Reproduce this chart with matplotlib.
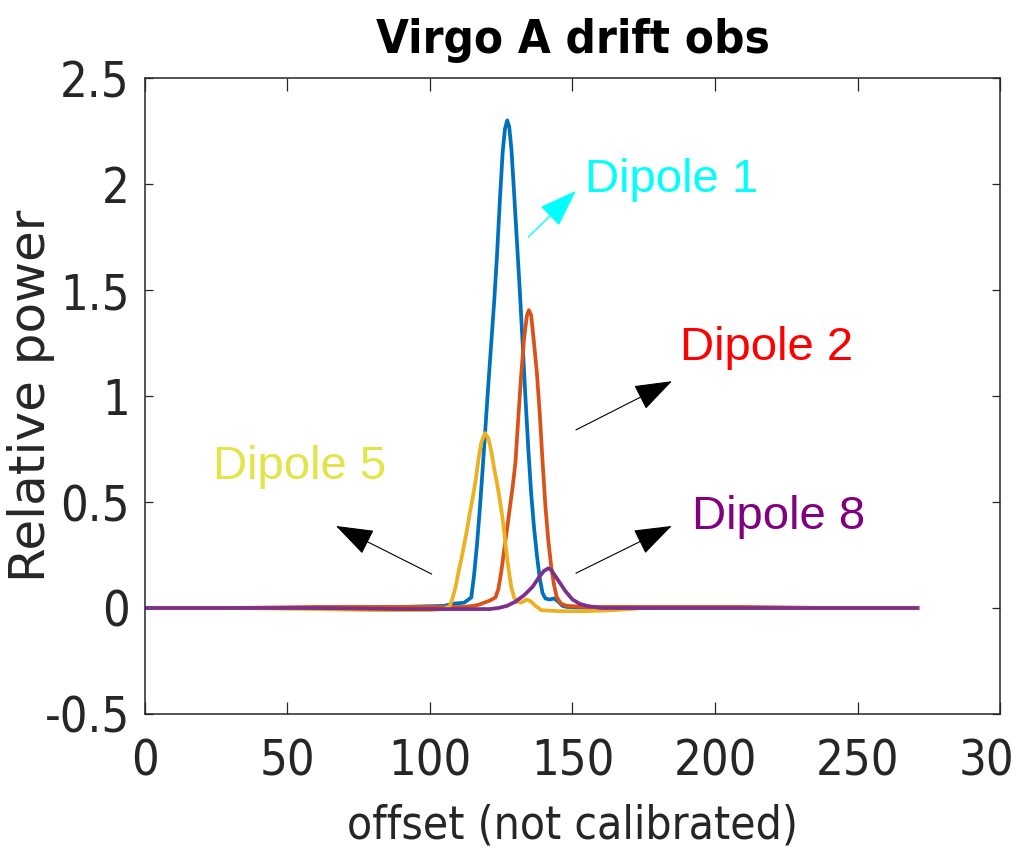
import matplotlib

matplotlib.use("Agg")
import matplotlib.pyplot as plt
from matplotlib import font_manager

# values
dipole1_x = [0, 30, 60, 90, 105, 108, 112, 114.5, 115.5, 116.5, 117.5, 118.5, 119.5, 120.5,
             121.5, 122.5, 123.5, 124.5, 125.5, 126.3, 127.1, 127.8, 128.6, 129.5, 130.5,
             131.5, 132.5, 133.5, 134.5, 135.5, 136.5, 137.5, 138.5, 139.5, 140.5, 142,
             143.5, 145, 146.5, 148, 160, 190, 220, 250, 271]
dipole1_y = [0.0, 0.0, 0.0, 0.005, 0.01, 0.02, 0.025, 0.05, 0.16, 0.30, 0.47, 0.66, 0.86, 1.06,
             1.25, 1.44, 1.66, 1.92, 2.15, 2.26, 2.30, 2.27, 2.16, 1.96, 1.73,
             1.50, 1.25, 0.99, 0.75, 0.54, 0.38, 0.25, 0.14, 0.07, 0.045, 0.04,
             0.045, 0.03, 0.01, 0.005, 0.0, 0.0, 0.0, 0.0, 0.0]

dipole2_x = [0, 30, 60, 90, 105, 112, 115, 117, 119, 121, 123, 124, 125, 126, 127, 128, 129,
             130, 131, 132, 133, 134, 134.7, 135.5, 136.5, 137.5, 138.5, 139.5, 140.5,
             141.5, 142.5, 143.5, 144.5, 146, 148, 155, 180, 210, 240, 271]
dipole2_y = [0.0, 0.0, 0.005, 0.005, 0.005, 0.005, 0.01, 0.015, 0.025, 0.035, 0.05, 0.09, 0.17,
             0.27, 0.37, 0.47, 0.57, 0.69, 0.90, 1.10, 1.27, 1.38, 1.405, 1.38, 1.25, 1.11,
             0.92, 0.69, 0.48, 0.32, 0.20, 0.11, 0.05, 0.02, 0.01, 0.005, 0.005, 0.005,
             0.0, 0.0]

dipole5_x = [0, 30, 60, 80, 100, 105, 107, 108, 109, 110, 111, 112, 113, 114, 115, 116, 117,
             118, 119.3, 120.5, 121.5, 122.5, 123.5, 124.5, 125.5, 126.5, 127.5, 128.5,
             129.5, 130.5, 132, 134, 135.5, 137, 139, 145, 155, 165, 175, 200, 230, 271]
dipole5_y = [0.0, 0.0, -0.005, -0.01, -0.01, -0.005, 0.01, 0.05, 0.10, 0.17, 0.23, 0.30, 0.37,
             0.45, 0.52, 0.60, 0.70, 0.78, 0.825, 0.80, 0.74, 0.66, 0.59, 0.51, 0.42, 0.30,
             0.19, 0.10, 0.05, 0.03, 0.025, 0.04, 0.03, 0.01, -0.01, -0.015, -0.015, -0.01,
             0.0, 0.0, 0.0, 0.0]

dipole8_x = [0, 30, 60, 90, 110, 121, 124, 127, 130, 133, 136, 138, 140, 141.5, 142.5, 143.5,
             145.5, 147.5, 150, 152.5, 155, 160, 190, 220, 250, 271]
dipole8_y = [0.0, 0.0, 0.0, -0.005, -0.005, -0.005, 0.0, 0.01, 0.03, 0.06, 0.10, 0.14, 0.175,
             0.187, 0.18, 0.16, 0.12, 0.08, 0.04, 0.02, 0.01, 0.0, 0.0, 0.0, 0.0, 0.0]

x_ticks = [0, 50, 100, 150, 200, 250, 300]
x_tick_labels = ["0", "50", "100", "150", "200", "250", "300"]
y_ticks = [-0.5, 0, 0.5, 1, 1.5, 2, 2.5]
y_tick_labels = ["-0.5", "0", "0.5", "1", "1.5", "2", "2.5"]

installed = {f.name for f in font_manager.fontManager.ttflist}
narrow = "Liberation Sans Narrow" if "Liberation Sans Narrow" in installed else "DejaVu Sans"
plain = "Liberation Sans" if "Liberation Sans" in installed else "DejaVu Sans"

fig = plt.figure(figsize=(10.13, 8.51), dpi=100)
ax = fig.add_axes([0.1431, 0.161, 0.8441, 0.7473])

ax.plot(dipole1_x, dipole1_y, color="#0072BD", linewidth=2.7)
ax.plot(dipole2_x, dipole2_y, color="#D95319", linewidth=2.7)
ax.plot(dipole5_x, dipole5_y, color="#EDB120", linewidth=2.7)
ax.plot(dipole8_x, dipole8_y, color="#7E2F8E", linewidth=2.7)

ax.set_xlim(0, 300)
ax.set_ylim(-0.5, 2.5)
ax.set_xticks(x_ticks)
ax.set_xticklabels(x_tick_labels, fontfamily=narrow, fontstretch="condensed", fontsize=35)
ax.set_yticks(y_ticks)
ax.set_yticklabels(y_tick_labels, fontfamily=narrow, fontstretch="condensed", fontsize=35)
ax.tick_params(axis="x", direction="in", length=9, width=0.9, top=True, pad=17,
               colors="#262626")
ax.tick_params(axis="y", direction="in", length=5.5, width=0.9, right=True, pad=11,
               colors="#262626")
for spine in ax.spines.values():
    spine.set_linewidth(1.1)
    spine.set_color("#262626")

ax.set_title("Virgo A drift obs", fontfamily=narrow, fontstretch="condensed",
             fontweight="bold", fontsize=34, pad=18)
ax.set_xlabel("offset (not calibrated)", fontfamily=narrow, fontstretch="condensed",
              fontsize=33, color="#262626")
ax.xaxis.set_label_coords(0.5, -0.14)
ax.set_ylabel("Relative power", fontfamily="DejaVu Sans", fontsize=36, color="#262626")
ax.yaxis.set_label_coords(-0.105, 0.5)

# annotation arrows and labels (data coordinates)
arrow_style = "-|>,head_length=24,head_width=8.5"
arrows = [
    ((134.5, 1.75), (151.2, 1.968), "#00FFFF", 1.0),
    ((151.2, 0.84), (184.9, 1.07), "black", 0.8),
    ((100.6, 0.16), (67.0, 0.387), "black", 0.8),
    ((151.2, 0.164), (184.8, 0.387), "black", 0.8),
]
for tail, head, color, lw in arrows:
    ax.annotate("", xy=head, xytext=tail,
                arrowprops=dict(arrowstyle=arrow_style, mutation_scale=1, color=color,
                                lw=lw, shrinkA=0, shrinkB=0))

labels = [
    ("Dipole 1", (154.4, 2.02), "#00FFFF"),
    ("Dipole 2", (187.7, 1.226), "#FF0000"),
    ("Dipole 5", (23.9, 0.665), "#E3E34A"),
    ("Dipole 8", (191.9, 0.429), "#800080"),
]
for text, pos, color in labels:
    ax.text(pos[0], pos[1], text, color=color, fontsize=34, fontfamily=plain,
            ha="left", va="center")

fig.savefig("out.png", dpi=100)
